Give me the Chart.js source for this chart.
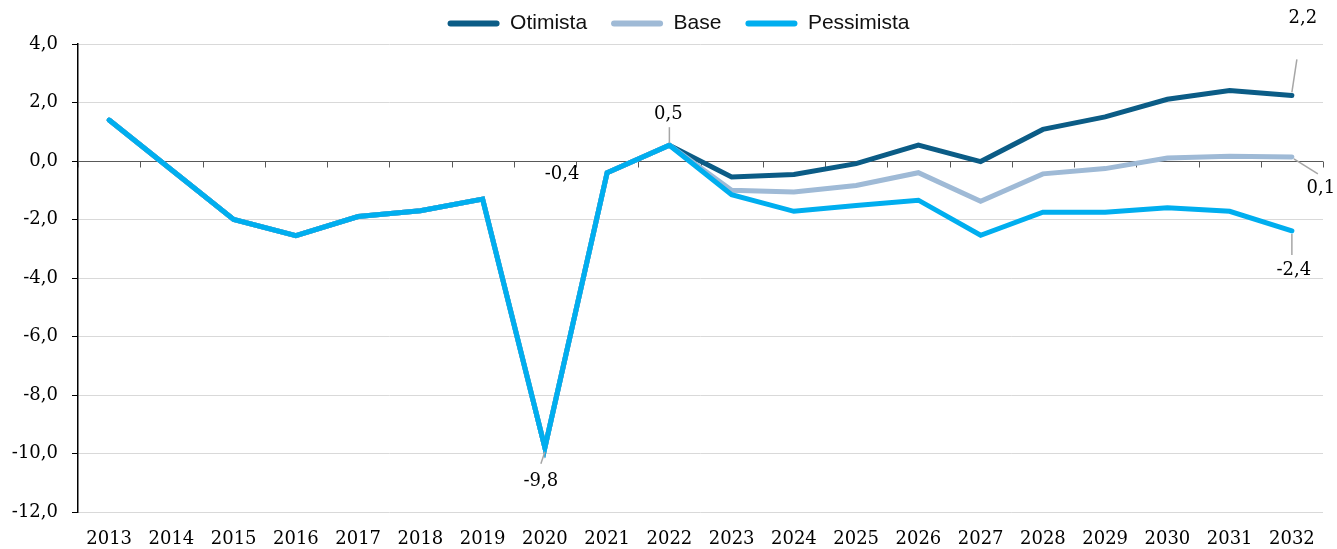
<!DOCTYPE html>
<html>
<head>
<meta charset="utf-8">
<script src="https://cdn.jsdelivr.net/npm/chart.js@4.4.1/dist/chart.umd.min.js"></script>
<style>
  html, body { margin: 0; padding: 0; background: #ffffff; }
  #wrap { width: 1337px; height: 549px; position: relative; }
</style>
</head>
<body>
<div id="wrap"><canvas id="c" width="1337" height="549"></canvas></div>
<script>
const years = ['2013','2014','2015','2016','2017','2018','2019','2020','2021','2022','2023','2024','2025','2026','2027','2028','2029','2030','2031','2032'];
const otimista   = [1.4, -0.3, -2.0, -2.55, -1.9, -1.7, -1.3, -9.8, -0.4, 0.54, -0.55, -0.46, -0.09, 0.54, -0.02, 1.08, 1.51, 2.11, 2.41, 2.24];
const base       = [1.4, -0.3, -2.0, -2.55, -1.9, -1.7, -1.3, -9.8, -0.4, 0.54, -1.0, -1.06, -0.84, -0.40, -1.38, -0.44, -0.26, 0.10, 0.16, 0.14];
const pessimista = [1.4, -0.3, -2.0, -2.55, -1.9, -1.7, -1.3, -9.8, -0.4, 0.54, -1.15, -1.72, -1.52, -1.34, -2.54, -1.75, -1.75, -1.60, -1.72, -2.39];
const yTicks = [4, 2, 0, -2, -4, -6, -8, -10, -12];

// labelled points: [datasetIndex, categoryIndex, dxLabel, dyLabel, leader]
const labelled = [
  [2, 7, -4, 34, [[0, 4], [-4, 16]]],
  [2, 8, -45, 2, null],
  [2, 9, -1, -31, [[0, -2], [0, -18]]],
  [0, 19, 11, -77, [[0, -3], [5, -36]]],
  [1, 19, 29, 31, [[2, 2], [26, 17]]],
  [2, 19, 2, 39, [[0, 3], [0, 24]]]
];

const fmt = v => v.toFixed(1).replace('.', ',');
const serif = "'DejaVu Serif', 'Liberation Serif', serif";

const zeroAxisPlugin = {
  id: 'zeroAxis',
  afterLayout(chart) {
    if (chart.legend) {
      chart.legend.left += 15;
      chart.legend.right += 15;
    }
  },
  beforeDatasetsDraw(chart) {
    const {ctx, chartArea} = chart;
    const xs = chart.scales.x, ys = chart.scales.y;
    const y0 = Math.round(ys.getPixelForValue(0)) + 0.5;
    ctx.save();
    ctx.strokeStyle = '#595959';
    ctx.lineWidth = 1;
    ctx.beginPath();
    ctx.moveTo(chartArea.left, y0);
    ctx.lineTo(chartArea.right, y0);
    for (let i = 0; i <= years.length; i++) {
      const x = Math.round(xs.getPixelForValue(i - 0.5)) + 0.5;
      ctx.moveTo(x, y0);
      ctx.lineTo(x, y0 + 6);
    }
    ctx.stroke();
    ctx.restore();
  },
  afterDraw(chart) {
    const {ctx} = chart;
    const xs = chart.scales.x, ys = chart.scales.y;
    ctx.save();
    ctx.font = "18px " + serif;
    ctx.fillStyle = '#000';
    ctx.textAlign = 'center';
    ctx.textBaseline = 'middle';
    labelled.forEach(([d, i, dx, dy, leader]) => {
      const v = chart.data.datasets[d].data[i];
      const px = xs.getPixelForValue(i);
      const py = ys.getPixelForValue(v);
      if (leader) {
        ctx.strokeStyle = '#a6a6a6';
        ctx.lineWidth = 1.5;
        ctx.beginPath();
        ctx.moveTo(px + leader[0][0], py + leader[0][1]);
        ctx.lineTo(px + leader[1][0], py + leader[1][1]);
        ctx.stroke();
      }
      ctx.fillText(fmt(v), px + dx, py + dy);
    });
    ctx.restore();
  }
};

new Chart(document.getElementById('c'), {
  type: 'line',
  data: {
    labels: years,
    datasets: [
      { label: 'Otimista', data: otimista, borderColor: '#0b5c86', backgroundColor: '#0b5c86', order: 2 },
      { label: 'Base', data: base, borderColor: '#9fbad6', backgroundColor: '#9fbad6', order: 1 },
      { label: 'Pessimista', data: pessimista, borderColor: '#00aeef', backgroundColor: '#00aeef', order: 0 }
    ]
  },
  options: {
    responsive: false,
    animation: false,
    devicePixelRatio: 1,
    layout: { padding: { left: 4, right: 14, top: -11, bottom: 0 } },
    elements: {
      line: { borderWidth: 5, tension: 0, borderCapStyle: 'round', borderJoinStyle: 'miter' },
      point: { radius: 0, hoverRadius: 0 }
    },
    plugins: {
      tooltip: { enabled: false },
      legend: {
        position: 'top',
        labels: {
          font: { family: "'Liberation Sans', Arial, sans-serif", size: 21 },
          color: '#111',
          boxWidth: 52,
          boxHeight: 6,
          padding: 24,
          useBorderRadius: true,
          borderRadius: 3,
          sort: (a, b) => a.datasetIndex - b.datasetIndex,
          generateLabels: (chart) => {
            const items = Chart.defaults.plugins.legend.labels.generateLabels(chart);
            items.forEach(it => { it.lineWidth = 0; it.strokeStyle = 'rgba(0,0,0,0)'; });
            return items;
          }
        }
      }
    },
    scales: {
      x: {
        offset: true,
        grid: { display: false },
        border: { display: false },
        afterFit: (s) => { s.height = 37; },
        ticks: { color: '#000', font: { family: serif, size: 18 }, maxRotation: 0, autoSkip: false, padding: 9 }
      },
      y: {
        min: -12,
        max: 4,
        afterBuildTicks: (scale) => { scale.ticks = yTicks.map(v => ({ value: v })); },
        afterFit: (s) => { s.width = 74; },
        grid: {
          color: '#d9d9d9',
          lineWidth: 1,
          tickColor: '#000',
          tickLength: 6,
          drawTicks: true
        },
        border: { display: true, color: '#000', width: 1.5 },
        ticks: { color: '#000', font: { family: serif, size: 18 }, padding: 14, callback: v => fmt(v) }
      }
    }
  },
  plugins: [zeroAxisPlugin]
});
</script>
</body>
</html>
